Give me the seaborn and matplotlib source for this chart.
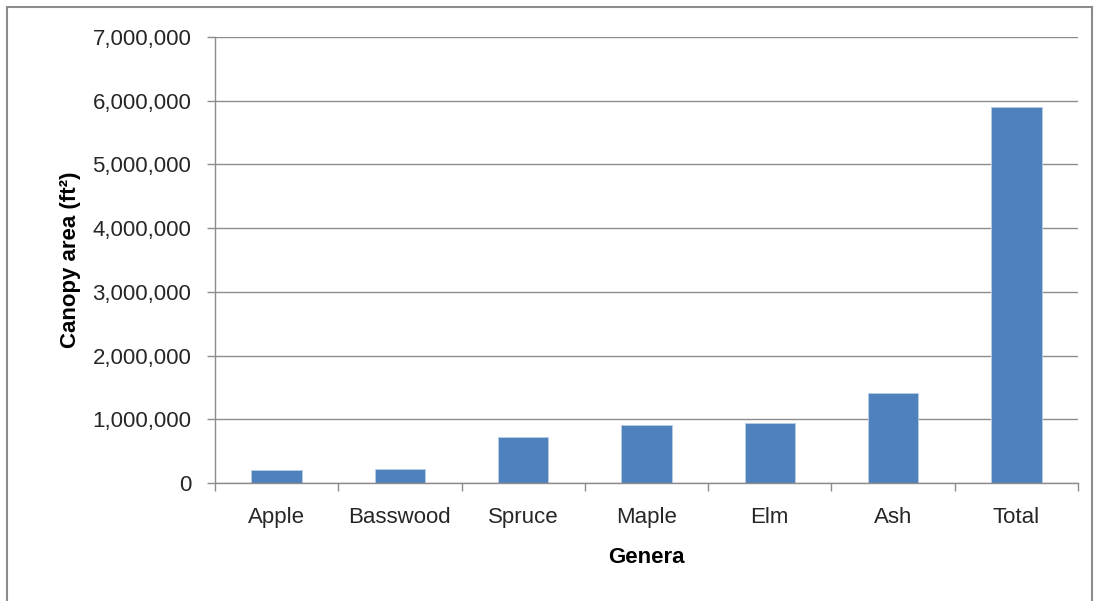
import matplotlib
matplotlib.use("Agg")
import matplotlib.pyplot as plt
import seaborn as sns
import numpy as np
import pandas as pd
from matplotlib.ticker import FuncFormatter, FixedLocator
from matplotlib.patches import Rectangle

genera = ["Apple", "Basswood", "Spruce", "Maple", "Elm", "Ash", "Total"]
canopy_area = [204000, 226000, 722000, 906000, 948000, 1413000, 5903000]
y_ticks = [0, 1000000, 2000000, 3000000, 4000000, 5000000, 6000000, 7000000]

sns.set_theme(style="white")
plt.rcParams['font.family'] = ['Liberation Sans', 'DejaVu Sans']

df = pd.DataFrame({"Genera": genera, "Canopy": canopy_area})

fig = plt.figure(figsize=(10.99, 6.01), dpi=100)
ax = fig.add_axes([215/1099, 1-483/601, (1078-215)/1099, (483-37)/601])

sns.barplot(data=df, x="Genera", y="Canopy", color="#4F81BD", saturation=1,
            width=0.41, ax=ax, edgecolor="#b9cde5", linewidth=0.6)

ax.set_ylim(0, 7000000)
ax.set_xlim(-0.5, len(genera) - 0.5)
ax.yaxis.set_major_locator(FixedLocator(y_ticks))
ax.yaxis.set_major_formatter(FuncFormatter(lambda v, p: f"{int(v):,}"))
ax.grid(axis="y", color="#8c8c8c", linewidth=1.0)
ax.set_axisbelow(True)

for s in ["top", "right"]:
    ax.spines[s].set_visible(False)
for s in ["left", "bottom"]:
    ax.spines[s].set_color("#8c8c8c")
    ax.spines[s].set_linewidth(1.0)

ax.tick_params(axis="y", which="major", direction="out", length=6, width=1,
               color="#8c8c8c", labelsize=16, labelcolor="#262626", pad=11, left=True)
ax.tick_params(axis="x", which="major", length=0, labelsize=16, labelcolor="#262626", pad=17)
ax.set_xticks(np.arange(-0.5, len(genera), 1.0), minor=True)
ax.tick_params(axis="x", which="minor", direction="out", length=6, width=1,
               color="#8c8c8c", bottom=True)

ax.set_xlabel("Genera", fontsize=16, fontweight="bold", labelpad=14, color="#000000")
ax.set_ylabel("Canopy area (ft²)", fontsize=16, fontweight="bold", labelpad=8, color="#000000")

fig.patches.append(Rectangle((7/1099, -0.05), (1092-7)/1099, 1.05 - 7/601,
                             transform=fig.transFigure, fill=False,
                             edgecolor="#8c8c8c", linewidth=1.5))

fig.savefig("out.png", dpi=100, facecolor="white")
